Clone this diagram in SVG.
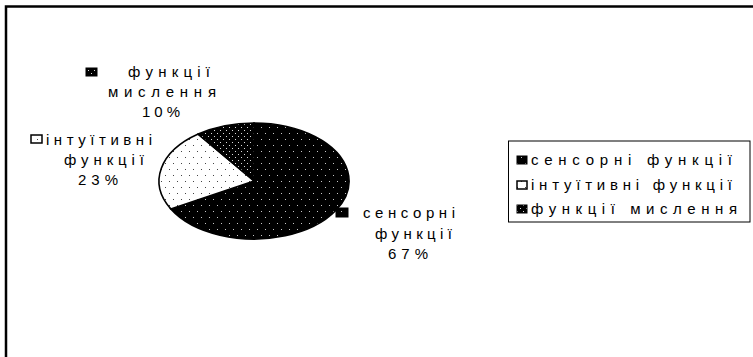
<svg xmlns="http://www.w3.org/2000/svg" width="753" height="357" viewBox="0 0 753 357">
<style>
text{font-family:"Liberation Sans",Arial,sans-serif;font-size:15px;fill:#000}
.slice{stroke:#000;stroke-width:1.6}
.key{stroke:#000;stroke-width:1}
</style>
<defs>
<pattern id="pSens" width="8" height="12" patternUnits="userSpaceOnUse">
<rect width="8" height="12" fill="#000"/>
<rect x="1" y="1" width="1" height="1" fill="#c8c8c8"/>
<rect x="5" y="7" width="1" height="1" fill="#c8c8c8"/>
</pattern>
<pattern id="pInt" width="8" height="12" patternUnits="userSpaceOnUse">
<rect width="8" height="12" fill="#fff"/>
<rect x="1" y="1" width="1" height="1" fill="#444"/>
<rect x="5" y="7" width="1" height="1" fill="#444"/>
</pattern>
<pattern id="pThink" width="6" height="6" patternUnits="userSpaceOnUse">
<rect width="6" height="6" fill="#000"/>
<rect x="1" y="1" width="1" height="1" fill="#ddd"/>
<rect x="4" y="4" width="1" height="1" fill="#ddd"/>
</pattern>
</defs>
<rect width="753" height="357" fill="#fff"/>
<path d="M6,357 V6.5 H753" fill="none" stroke="#000" stroke-width="2.5"/>
<g id="pie">
<path id="slice-sensory" class="slice" fill="url(#pSens)" d="M254,181 L254,123 A95,58 0 1 1 170.75,208.9 Z"/>
<path id="slice-intuitive" class="slice" fill="url(#pInt)" d="M254,181 L170.75,208.9 A95,58 0 0 1 198.2,134.1 Z"/>
<path id="slice-thinking" class="slice" fill="url(#pThink)" d="M254,181 L198.2,134.1 A95,58 0 0 1 254,123 Z"/>
</g>
<g id="label-thinking">
<rect x="86" y="68" width="11" height="8" fill="url(#pThink)" class="key"/>
<text x="128" y="77" textLength="82" lengthAdjust="spacing">функції</text>
<text x="108" y="97" textLength="108" lengthAdjust="spacing">мислення</text>
<text x="142" y="117" textLength="38" lengthAdjust="spacing">10%</text>
</g>
<g id="label-intuitive">
<rect x="31" y="135" width="11" height="8" fill="url(#pInt)" stroke="#000" stroke-width="1.5"/>
<text x="46" y="145" textLength="106" lengthAdjust="spacing">інтуїтивні</text>
<text x="64" y="165" textLength="80" lengthAdjust="spacing">функції</text>
<text x="78" y="185" textLength="40" lengthAdjust="spacing">23%</text>
</g>
<g id="label-sensory">
<rect x="336" y="208" width="12" height="9" fill="url(#pSens)" class="key"/>
<text x="363" y="218" textLength="92" lengthAdjust="spacing">сенсорні</text>
<text x="375" y="239" textLength="77" lengthAdjust="spacing">функції</text>
<text x="388" y="259" textLength="40" lengthAdjust="spacing">67%</text>
</g>
<g id="legend">
<rect x="508.5" y="141" width="241.5" height="81" fill="#fff" stroke="#000" stroke-width="1"/>
<rect x="517" y="156" width="10" height="8" fill="url(#pSens)" class="key"/>
<text x="531" y="165" textLength="201" lengthAdjust="spacing">сенсорні функції</text>
<rect x="517" y="181" width="10" height="8" fill="url(#pInt)" stroke="#000" stroke-width="1.5"/>
<text x="531" y="190" textLength="201" lengthAdjust="spacing">інтуїтивні функції</text>
<rect x="517" y="205" width="10" height="8" fill="url(#pThink)" class="key"/>
<text x="531" y="214" textLength="206" lengthAdjust="spacing">функції мислення</text>
</g>
</svg>
